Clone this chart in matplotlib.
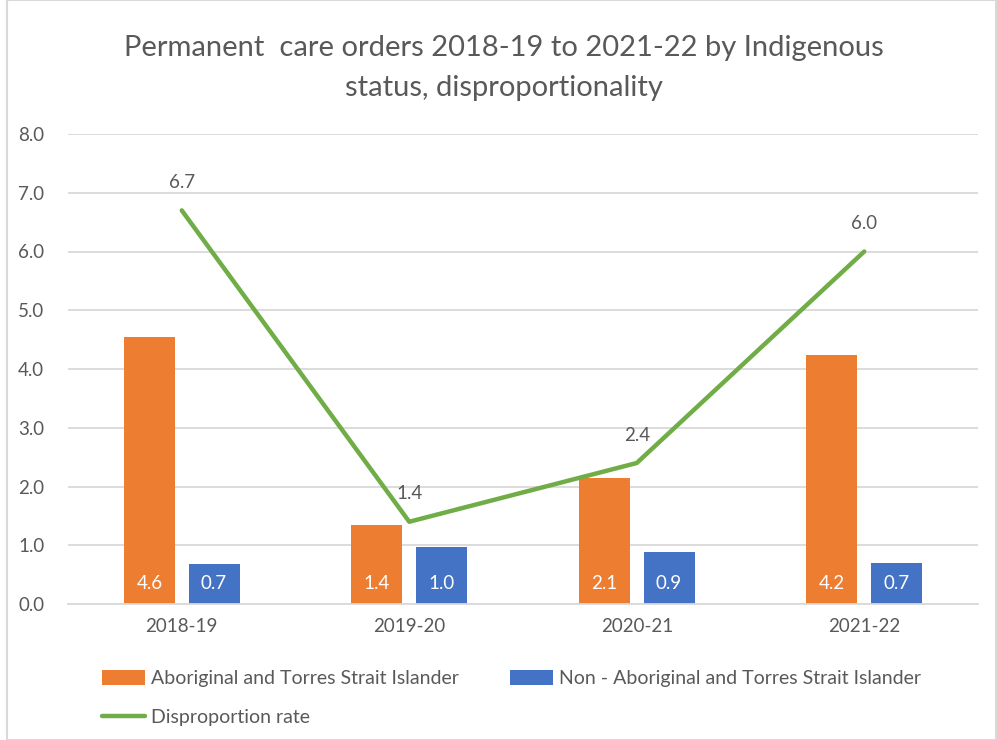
import numpy as np
import matplotlib
matplotlib.use("Agg")
import matplotlib.pyplot as plt
from matplotlib.patches import Rectangle

plt.rcParams['font.family'] = ['Lato', 'DejaVu Sans']

years = ["2018-19", "2019-20", "2020-21", "2021-22"]
aboriginal = [4.55, 1.35, 2.15, 4.23]
aboriginal_labels = ["4.6", "1.4", "2.1", "4.2"]
non_aboriginal = [0.68, 0.97, 0.88, 0.70]
non_aboriginal_labels = ["0.7", "1.0", "0.9", "0.7"]
disproportion = [6.7, 1.4, 2.4, 6.0]

orange = "#ED7D31"
blue = "#4472C4"
green = "#70AD47"
grey_text = "#595959"
grid_col = "#D9D9D9"

fig = plt.figure(figsize=(9.97, 7.40), dpi=100)
ax = fig.add_axes([68/997, 1 - 604/740, 910/997, 470/740])

x = np.arange(len(years))
w = 0.224
off = 0.142

b1 = ax.bar(x - off, aboriginal, w, color=orange, label="Aboriginal and Torres Strait Islander", zorder=2)
b2 = ax.bar(x + off, non_aboriginal, w, color=blue, label="Non - Aboriginal and Torres Strait Islander", zorder=2)
ln, = ax.plot(x, disproportion, color=green, lw=3.2, solid_capstyle='round', label="Disproportion rate", zorder=3)

for i in range(len(years)):
    ax.annotate(aboriginal_labels[i], (x[i] - off, 0), xytext=(0, 15), textcoords='offset points',
                ha='center', va='center', color='white', fontsize=13.5)
    ax.annotate(non_aboriginal_labels[i], (x[i] + off, 0), xytext=(0, 15), textcoords='offset points',
                ha='center', va='center', color='white', fontsize=13.5)
    ax.annotate(f"{disproportion[i]:.1f}", (x[i], disproportion[i]), xytext=(0, 20), textcoords='offset points',
                ha='center', va='center', color=grey_text, fontsize=13.5)

ax.set_xlim(-0.5, 3.5)
ax.set_ylim(0, 8)
ax.set_yticks(np.arange(0, 9, 1))
ax.set_yticklabels([f"{v:.1f}" for v in np.arange(0, 9, 1)])
ax.set_xticks(x)
ax.set_xticklabels(years)
ax.tick_params(axis='both', length=0, colors=grey_text, labelsize=13.5)
ax.tick_params(axis='y', pad=17)
ax.tick_params(axis='x', pad=10)
ax.grid(axis='y', color=grid_col, lw=1.3, zorder=0)
ax.set_axisbelow(True)
for s in ['top', 'right', 'left']:
    ax.spines[s].set_visible(False)
ax.spines['bottom'].set_color(grid_col)
ax.spines['bottom'].set_linewidth(1.3)

fig.text(0.505, 1 - 48/740, "Permanent  care orders 2018-19 to 2021-22 by Indigenous", ha='center', va='center',
         fontsize=21, color=grey_text)
fig.text(0.505, 1 - 88/740, "status, disproportionality", ha='center', va='center',
         fontsize=21, color=grey_text)

leg = fig.legend([b1, ln, b2], [b1.get_label(), ln.get_label(), b2.get_label()], ncol=2,
                 loc='upper left', bbox_to_anchor=(92/997, 1 - 660/740), frameon=False,
                 fontsize=14, labelcolor=grey_text, handlelength=2.2, handleheight=0.8,
                 handletextpad=0.35, columnspacing=2.6, labelspacing=1.15, borderpad=0)

fig.patches.append(Rectangle((7/997, 0.0), 1 - 8/997, 1.0, transform=fig.transFigure,
                             fill=False, edgecolor=grid_col, lw=1.5))

fig.savefig("out.png", dpi=100)
